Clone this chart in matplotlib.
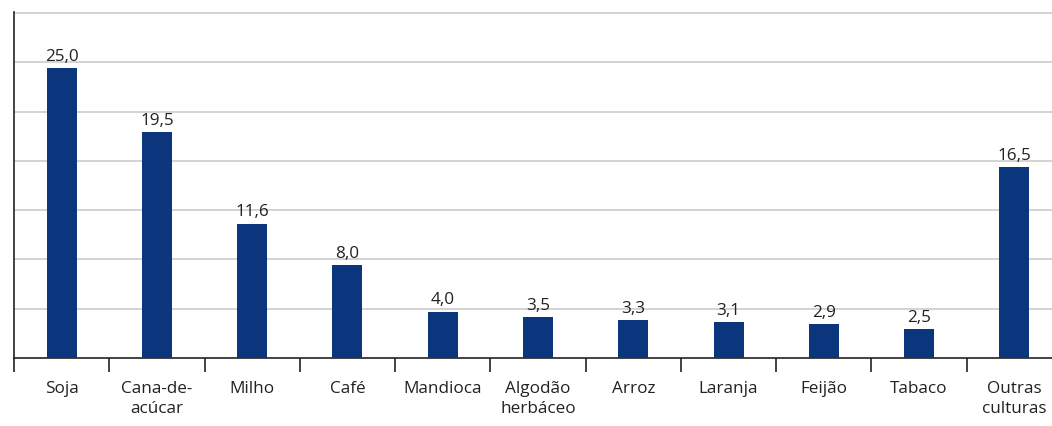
import matplotlib.pyplot as plt
import numpy as np

categories = ["Soja", "Cana-de-\nacúcar", "Milho", "Café", "Mandioca", "Algodão\nherbáceo",
              "Arroz", "Laranja", "Feijão", "Tabaco", "Outras\nculturas"]
values = [25.0, 19.5, 11.6, 8.0, 4.0, 3.5, 3.3, 3.1, 2.9, 2.5, 16.5]
labels = ["25,0", "19,5", "11,6", "8,0", "4,0", "3,5", "3,3", "3,1", "2,9", "2,5", "16,5"]

plt.rcParams["font.family"] = ["Open Sans", "DejaVu Sans"]

fig = plt.figure(figsize=(10.52, 4.27), dpi=100)
W, H = 1052, 427
ax = fig.add_axes([14 / W, (H - 359) / H, 1048 / W, 346 / H])

x = np.arange(len(values))
ax.bar(x, values, width=0.315, color="#0b357c", zorder=3)
for xi, v, lab in zip(x, values, labels):
    ax.annotate(lab, (xi, v), xytext=(0, 3), textcoords="offset points",
                ha="center", va="bottom", fontsize=12.3, color="#222222")

ax.set_xlim(-0.5, len(values) - 0.5)
ax.set_ylim(0, 29.85)
ax.set_yticks(np.arange(1, 8) * 4.25)
ax.yaxis.grid(True, color="#cccccc", lw=1.2, zorder=0)
ax.tick_params(axis="y", length=0, labelleft=False)

ax.set_xticks(x)
ax.set_xticklabels(categories, fontsize=12.3, color="#222222", linespacing=1.3)
ax.set_xticks(np.arange(len(values) + 1) - 0.5, minor=True)
ax.tick_params(axis="x", which="major", length=0, pad=16)
ax.tick_params(axis="x", which="minor", length=10, width=1.2, color="#222222")

for s in ["top", "right"]:
    ax.spines[s].set_visible(False)
ax.spines["left"].set_color("#222222")
ax.spines["bottom"].set_color("#222222")
ax.spines["left"].set_linewidth(1.2)
ax.spines["bottom"].set_linewidth(1.2)

fig.savefig("out.png", dpi=100)
